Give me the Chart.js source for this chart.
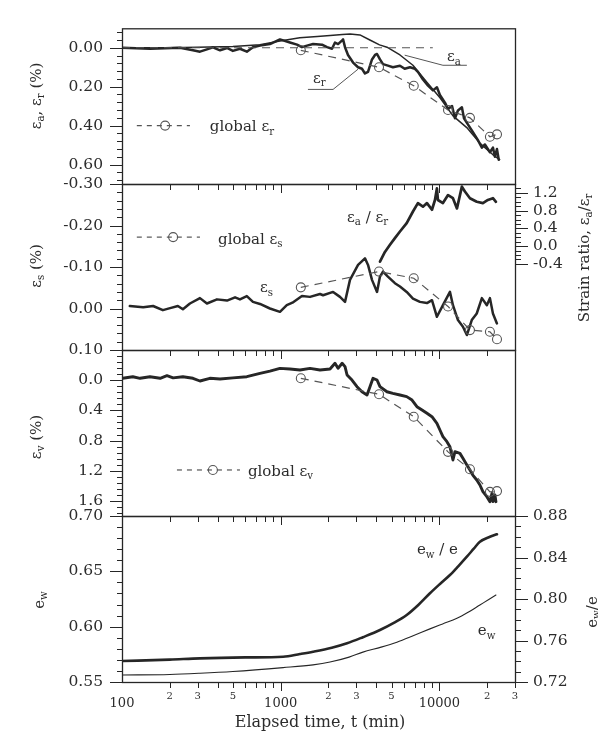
<!DOCTYPE html>
<html>
<head>
<meta charset="utf-8">
<title>Strain and void ratio versus elapsed time</title>
<script src="https://cdn.jsdelivr.net/npm/chart.js@4.4.1/dist/chart.umd.min.js"></script>
<style>
  html, body { margin: 0; padding: 0; background: #fff; }
  #wrap { position: relative; width: 598px; height: 735px; overflow: hidden; background: #fff; }
  #wrap canvas { position: absolute; left: 0; top: 0; }
</style>
</head>
<body>
<div id="wrap">
  <canvas id="p1" width="598" height="735"></canvas>
  <canvas id="p2" width="598" height="735"></canvas>
  <canvas id="p3" width="598" height="735"></canvas>
  <canvas id="p4" width="598" height="735"></canvas>
</div>
<script>
// ---------- time axis (min) ----------
const T_MIN = 100, T_MAX = 30000;
const timeMajor = [1000, 10000];
const timeMinor = [200, 300, 400, 500, 600, 700, 800, 900,
                   2000, 3000, 4000, 5000, 6000, 7000, 8000, 9000, 20000, 30000];
const timeLabelValues = [100, 200, 300, 500, 1000, 2000, 3000, 5000, 10000, 20000, 30000];
const timeLabelText   = ['100', '2', '3', '5', '1000', '2', '3', '5', '10000', '2', '3'];

// ---------- panel 1: axial and radial strain (%) ----------
const tEa = [100, 200, 300, 500, 740, 990, 1320, 1700, 2050, 2450, 2740, 3160, 3650, 4200, 4680,
             5650, 6820, 8400, 10100, 12200, 14900, 18000, 21800, 24000];
const ea  = [0.000, 0.000, -0.002, -0.006, -0.015, -0.035, -0.052, -0.058, -0.063, -0.068, -0.071, -0.066, -0.040, -0.015, -0.003,
             0.037, 0.090, 0.180, 0.257, 0.350, 0.410, 0.490, 0.550, 0.575];

const tEr = [100, 150, 187, 232, 280, 310, 343, 374, 415, 459, 500, 554, 612, 669, 741, 856, 990, 1144, 1268, 1362,
             1466, 1601, 1822, 1960, 2107, 2201, 2300, 2441, 2474, 2545, 2658, 2860, 3075, 3255, 3400, 3554, 3765, 3934, 4050, 4227,
             4417, 4742, 5100, 5650, 6050, 6531, 7020, 7330, 7890, 8490, 9120, 9660, 10090, 10850, 11350, 12030, 12550, 13110, 13880, 14310,
             15140, 16260, 17480, 18550, 19380, 20850, 21780, 22420, 23080, 23700];
const er  = [0.000, 0.005, 0.002, 0.000, 0.013, 0.020, 0.008, -0.002, 0.013, 0.001, 0.016, 0.005, 0.020, -0.003, -0.011, -0.019, -0.043, -0.027, -0.016, -0.003,
             -0.011, -0.019, -0.016, -0.003, 0.005, -0.027, -0.019, -0.038, -0.043, -0.003, 0.037, 0.076, 0.100, 0.108, 0.132, 0.124, 0.060, 0.037, 0.032, 0.060,
             0.084, 0.092, 0.100, 0.092, 0.108, 0.100, 0.108, 0.124, 0.163, 0.195, 0.219, 0.203, 0.243, 0.282, 0.314, 0.299, 0.362, 0.322, 0.306, 0.362,
             0.394, 0.433, 0.473, 0.513, 0.497, 0.537, 0.513, 0.560, 0.520, 0.575];

// global (specimen-average) measurements
const tGlobal = [1340, 4170, 6900, 11350, 15600, 20850, 23100];
const gEr = [0.013, 0.100, 0.195, 0.320, 0.360, 0.457, 0.445];
const tGlobalA = [100, 9100];
const gEa = [0, 0];

// ---------- panel 2: shear strain (%) and strain ratio ----------
const tEs = [112, 136, 157, 181, 201, 225, 242, 268, 310, 343, 397, 459, 516, 554, 612, 669, 741, 856, 990, 1093,
             1187, 1362, 1531, 1770, 1851, 2140, 2366, 2545, 2735, 3075, 3400, 3554, 3765, 4050, 4227, 4417, 4742, 5250, 5650, 6230,
             6823, 7551, 8360, 8990, 9660, 10540, 11670, 12190, 13110, 14090, 14920, 16020, 17220, 18550, 19940, 20850, 21780, 23080];
const es  = [-0.006, -0.003, -0.006, 0.004, -0.001, -0.006, 0.002, -0.012, -0.025, -0.012, -0.022, -0.019, -0.027, -0.022, -0.030, -0.016, -0.011, 0.000, 0.008, -0.008,
             -0.014, -0.030, -0.028, -0.035, -0.032, -0.040, -0.028, -0.016, -0.069, -0.105, -0.121, -0.105, -0.069, -0.040, -0.077, -0.089, -0.077, -0.061, -0.053, -0.040,
             -0.024, -0.016, -0.013, -0.020, 0.020, -0.008, -0.040, -0.008, 0.028, 0.044, 0.064, 0.028, 0.012, -0.025, -0.008, -0.025, 0.012, 0.036];
const gEs = [-0.051, -0.089, -0.073, -0.005, 0.052, 0.056, 0.074];

const tRatio = [4227, 4542, 4887, 5250, 5650, 6230, 6823, 7330, 7890, 8360, 8990, 9390, 9660, 9800, 10540, 11350, 12190, 12920,
                13880, 14500, 15600, 17220, 18830, 20240, 21780, 22750];
const ratio  = [-0.35, -0.13, 0.03, 0.18, 0.33, 0.52, 0.78, 0.97, 0.89, 0.97, 0.82, 1.04, 1.30, 1.04, 0.97, 1.15, 1.08, 0.85,
                1.34, 1.23, 1.08, 1.00, 0.97, 1.04, 1.08, 1.00];

// ---------- panel 3: volumetric strain (%) ----------
const tEv = [101, 117, 130, 150, 174, 192, 210, 242, 280, 310, 358, 415, 500, 612, 741, 856, 990, 1144, 1324, 1531,
             1770, 2047, 2201, 2300, 2441, 2545, 2622, 2816, 3029, 3255, 3503, 3656, 3820, 4050, 4227, 4677, 5100, 5650, 6230, 6730,
             7225, 7782, 8360, 8990, 9660, 10090, 10540, 11170, 11670, 12190, 12550, 13490, 14090, 14920, 15600, 16260, 17220, 18030, 18830, 19940,
             20850, 21480, 21780, 22420, 22750];
const ev  = [-0.025, -0.046, -0.025, -0.046, -0.025, -0.060, -0.030, -0.046, -0.025, 0.011, -0.025, -0.016, -0.030, -0.046, -0.090, -0.120, -0.157, -0.148, -0.135, -0.157,
             -0.135, -0.148, -0.224, -0.157, -0.224, -0.179, -0.069, -0.002, 0.086, 0.153, 0.196, 0.086, -0.025, -0.002, 0.086, 0.153, 0.174, 0.196, 0.218, 0.263,
             0.351, 0.395, 0.439, 0.484, 0.572, 0.660, 0.749, 0.815, 0.882, 1.058, 0.948, 0.970, 1.035, 1.124, 1.190, 1.257, 1.323, 1.389, 1.477, 1.544,
             1.610, 1.500, 1.610, 1.520, 1.610];
const gEv = [-0.025, 0.187, 0.484, 0.950, 1.180, 1.480, 1.470];

// ---------- panel 4: void ratio ----------
const tEw = [100, 200, 310, 500, 1036, 1600, 2047, 2700, 3300, 4300, 5405, 6900, 8730, 10500, 12920, 15200, 18030, 20500, 22750];
const ew  = [0.5563, 0.5568, 0.5579, 0.5595, 0.5630, 0.5655, 0.5680, 0.5725, 0.5770, 0.5815, 0.5860, 0.5920, 0.5980, 0.6025, 0.6075, 0.6130, 0.6196, 0.6245, 0.6286];
const tEwe = [100, 200, 310, 600, 1036, 1324, 1601, 2100, 2622, 3300, 4227, 5200, 6230, 7400, 8730, 10100, 11670, 13200, 14920, 16500, 18030, 20850, 23080];
const ewe  = [0.7402, 0.7416, 0.7428, 0.7437, 0.7444, 0.7470, 0.7492, 0.7530, 0.7573, 0.7632, 0.7701, 0.7772, 0.7846, 0.7945, 0.8055, 0.8145, 0.8231, 0.8318, 0.8408, 0.8485, 0.8552, 0.8600, 0.8624];

// ---------- axis tick labels ----------
const y1Ticks = [0, 0.2, 0.4, 0.6];
const y2Ticks = [-0.3, -0.2, -0.1, 0, 0.1];
const r2Ticks = [-0.4, 0, 0.4, 0.8, 1.2];
const y3Ticks = [0, 0.4, 0.8, 1.2, 1.6];
const y4Ticks = [0.55, 0.60, 0.65, 0.70];
const r4Ticks = [0.72, 0.76, 0.80, 0.84, 0.88];

// ---------- layout and style ----------
const W = 598, H = 735;
const PLOT_L = 122, PLOT_R = 515;
const INK = '#262626', GREY = '#555', TEXT = '#2c2c2c';
const SERIF = '"DejaVu Serif", "Liberation Serif", serif';

const pts = (ts, vs) => ts.map((t, i) => ({ x: t, y: vs[i] }));

function solid(label, ts, vs, width, axis, smooth) {
  const ds = { label, data: pts(ts, vs), yAxisID: axis || 'y', borderColor: INK, borderWidth: width,
               pointRadius: 0, tension: 0, fill: false, borderJoinStyle: 'round', borderCapStyle: 'round' };
  if (smooth) ds.cubicInterpolationMode = 'monotone';
  return ds;
}
function dashed(label, ts, vs, markers) {
  return { label, data: pts(ts, vs), yAxisID: 'y', borderColor: GREY, borderWidth: 1.2, borderDash: [8, 6],
           pointRadius: markers ? 4.5 : 0, pointBorderWidth: 1.1, pointBorderColor: GREY,
           pointBackgroundColor: 'rgba(255,255,255,0)', pointStyle: 'circle', tension: 0, fill: false };
}

// text with single-character subscripts written as "_x"
function parseRich(s) {
  const parts = []; let buf = '';
  for (let i = 0; i < s.length; i++) {
    if (s[i] === '_' && i + 1 < s.length) {
      if (buf) { parts.push({ s: buf, sub: false }); buf = ''; }
      parts.push({ s: s[i + 1], sub: true }); i++;
    } else buf += s[i];
  }
  if (buf) parts.push({ s: buf, sub: false });
  return parts;
}
function drawRich(ctx, str, x, y, size, align) {
  const parts = parseRich(str), subSize = size * 0.68;
  let w = 0;
  parts.forEach(p => { ctx.font = `${p.sub ? subSize : size}px ${SERIF}`; p.w = ctx.measureText(p.s).width; w += p.w; });
  let cx = align === 'center' ? x - w / 2 : align === 'right' ? x - w : x;
  ctx.textAlign = 'left'; ctx.textBaseline = 'middle'; ctx.fillStyle = TEXT;
  parts.forEach(p => {
    ctx.font = `${p.sub ? subSize : size}px ${SERIF}`;
    ctx.fillText(p.s, cx, p.sub ? y + size * 0.32 : y);
    cx += p.w;
  });
}

function yTickMarks(ctx, scale, x, dir, major, minor, from, to) {
  const lo = from !== undefined ? from : scale.min, hi = to !== undefined ? to : scale.max;
  const n0 = Math.ceil(lo / minor - 1e-6), n1 = Math.floor(hi / minor + 1e-6);
  for (let n = n0; n <= n1; n++) {
    const v = n * minor;
    const isMajor = Math.abs(v / major - Math.round(v / major)) < 1e-6;
    const y = Math.round(scale.getPixelForValue(v)) + 0.5;
    ctx.moveTo(x, y); ctx.lineTo(x + dir * (isMajor ? 12 : 5), y);
  }
}
function xTickMarks(ctx, scale, y) {
  timeMinor.forEach(v => { const x = Math.round(scale.getPixelForValue(v)) + 0.5; ctx.moveTo(x, y); ctx.lineTo(x, y + 6); });
  timeMajor.forEach(v => { const x = Math.round(scale.getPixelForValue(v)) + 0.5; ctx.moveTo(x, y); ctx.lineTo(x, y + 9); });
}

// frame, minor/major ticks, annotations
function makeDecor(cfg) {
  return {
    id: 'decor',
    afterDatasetsDraw(chart) {
      const ctx = chart.ctx, a = chart.chartArea, xs = chart.scales.x, ys = chart.scales.y;
      const px = (t, v, axis) => [xs.getPixelForValue(t), chart.scales[axis || 'y'].getPixelForValue(v)];
      ctx.save();
      ctx.strokeStyle = INK; ctx.lineWidth = 1.3; ctx.setLineDash([]);
      ctx.strokeRect(a.left + 0.5, a.top + 0.5, a.right - a.left, a.bottom - a.top);

      ctx.lineWidth = 1; ctx.beginPath();
      yTickMarks(ctx, ys, a.left, -1, cfg.yMajor, cfg.yMinor);
      if (cfg.r) yTickMarks(ctx, chart.scales.y2, a.right + 1, 1, cfg.r.major, cfg.r.minor, cfg.r.from, cfg.r.to);
      if (cfg.topTicks) xTickMarks(ctx, xs, a.top);
      if (cfg.bottomTicks) xTickMarks(ctx, xs, a.bottom);
      ctx.stroke();

      // leader lines from labels to curves
      (cfg.leaders || []).forEach(path => {
        ctx.beginPath(); ctx.strokeStyle = GREY; ctx.lineWidth = 1;
        path.forEach((p, i) => { const q = px(p[0], p[1]); i ? ctx.lineTo(q[0], q[1]) : ctx.moveTo(q[0], q[1]); });
        ctx.stroke();
      });

      // legend samples for the global series
      (cfg.legends || []).forEach(l => {
        const p0 = px(l.t0, l.v), p1 = px(l.t1, l.v), pc = px(l.tc, l.v);
        ctx.beginPath(); ctx.strokeStyle = GREY; ctx.lineWidth = 1.2; ctx.setLineDash([5, 5]);
        ctx.moveTo(p0[0], p0[1]); ctx.lineTo(p1[0], p1[1]); ctx.stroke();
        ctx.setLineDash([]);
        ctx.beginPath(); ctx.lineWidth = 1.1; ctx.arc(pc[0], pc[1], 4.5, 0, Math.PI * 2); ctx.stroke();
        const pt = px(l.tt, l.vt);
        drawRich(ctx, l.text, pt[0], pt[1], 15, 'left');
      });

      // curve labels placed in data coordinates
      (cfg.labels || []).forEach(l => {
        const p = px(l.t, l.v, l.axis);
        drawRich(ctx, l.text, p[0], p[1], l.size || 15, 'left');
      });

      // axis titles
      (cfg.titles || []).forEach(tl => {
        ctx.save(); ctx.translate(tl.x, tl.y);
        if (tl.rot) ctx.rotate(-Math.PI / 2);
        drawRich(ctx, tl.text, 0, 0, tl.size || 15, 'center');
        ctx.restore();
      });

      // time axis labels
      if (cfg.timeLabels) {
        ctx.fillStyle = TEXT; ctx.textAlign = 'center'; ctx.textBaseline = 'middle';
        timeLabelValues.forEach((v, i) => {
          const big = timeLabelText[i].length > 1;
          ctx.font = `${big ? 13 : 10}px ${SERIF}`;
          ctx.fillText(timeLabelText[i], xs.getPixelForValue(v), a.bottom + (big ? 22 : 14));
        });
      }
      ctx.restore();
    }
  };
}

function axisOpts(c, pos) {
  return {
    type: 'linear', position: pos, min: c.min, max: c.max, reverse: !!c.reverse,
    grid: { display: false, drawTicks: false }, border: { display: false },
    ticks: { padding: pos === 'left' ? 19 : 18, color: TEXT, autoSkip: false,
             font: { family: SERIF, size: 15.5 }, callback: v => Number(v).toFixed(c.dec) },
    afterBuildTicks(s) { s.ticks = c.ticks.map(v => ({ value: v })); },
    afterFit(s) { s.width = pos === 'left' ? PLOT_L : W - PLOT_R; }
  };
}

function makePanel(id, top, bottom, datasets, y, y2, deco) {
  const scales = {
    x: { type: 'logarithmic', min: T_MIN, max: T_MAX, display: false },
    y: axisOpts(y, 'left')
  };
  if (y2) scales.y2 = axisOpts(y2, 'right');
  return new Chart(document.getElementById(id), {
    type: 'line',
    data: { datasets },
    options: {
      responsive: false, animation: false, events: [], devicePixelRatio: 1,
      layout: { padding: { top, bottom: H - bottom, left: 0, right: y2 ? 0 : W - PLOT_R } },
      plugins: { legend: { display: false }, tooltip: { enabled: false } },
      scales
    },
    plugins: [makeDecor(deco)]
  });
}

// panel 1: axial / radial strain
makePanel('p1', 19, 184, [
  dashed('global εa', tGlobalA, gEa, false),
  dashed('global εr', tGlobal, gEr, true),
  solid('εa', tEa, ea, 1.5),
  solid('εr', tEr, er, 2.5)
], { min: -0.1, max: 0.7, reverse: true, ticks: y1Ticks, dec: 2 }, null, {
  yMajor: 0.2, yMinor: 0.04,
  leaders: [[[6050, 0.038], [10540, 0.09], [14920, 0.09]], [[1486, 0.214], [2140, 0.214], [3075, 0.11]]],
  legends: [{ t0: 124, t1: 268, tc: 187, v: 0.40, tt: 358, vt: 0.41, text: 'global ε_r' }],
  labels: [{ t: 11170, v: 0.05, text: 'ε_a' }, { t: 1600, v: 0.16, text: 'ε_r' }],
  titles: [{ x: 37, y: 96, rot: true, text: 'ε_a, ε_r (%)' }]
});

// panel 2: shear strain and strain ratio
makePanel('p2', 184, 350, [
  dashed('global εs', tGlobal, gEs, true),
  solid('εs', tEs, es, 2.5),
  solid('εa/εr', tRatio, ratio, 2.7, 'y2')
], { min: -0.3, max: 0.1, reverse: true, ticks: y2Ticks, dec: 2 },
   { min: -2.34, max: 1.4, ticks: r2Ticks, dec: 1 }, {
  yMajor: 0.1, yMinor: 0.02, topTicks: true,
  r: { major: 0.4, minor: 0.1, from: -0.4, to: 1.3 },
  legends: [{ t0: 124, t1: 310, tc: 210, v: -0.172, tt: 403, vt: -0.166, text: 'global ε_s' }],
  labels: [{ t: 741, v: -0.049, text: 'ε_s' }, { t: 2620, v: -0.218, text: 'ε_a / ε_r' }],
  titles: [{ x: 37, y: 266, rot: true, text: 'ε_s (%)' },
           { x: 585, y: 258, rot: true, text: 'Strain ratio, ε_a/ε_r' }]
});

// panel 3: volumetric strain
makePanel('p3', 350, 516, [
  dashed('global εv', tGlobal, gEv, true),
  solid('εv', tEv, ev, 2.9)
], { min: -0.4, max: 1.8, reverse: true, ticks: y3Ticks, dec: 1 }, null, {
  yMajor: 0.4, yMinor: 0.08, topTicks: true,
  legends: [{ t0: 222, t1: 554, tc: 374, v: 1.19, tt: 622, vt: 1.215, text: 'global ε_v' }],
  titles: [{ x: 37, y: 437, rot: true, text: 'ε_v (%)' }]
});

// panel 4: void ratio e_w and normalised ratio e_w/e
makePanel('p4', 516, 682, [
  solid('ew', tEw, ew, 1.1, 'y', true),
  solid('ew/e', tEwe, ewe, 2.6, 'y2', true)
], { min: 0.55, max: 0.70, ticks: y4Ticks, dec: 2 },
   { min: 0.72, max: 0.88, ticks: r4Ticks, dec: 2 }, {
  yMajor: 0.05, yMinor: 0.01, topTicks: true, bottomTicks: true, timeLabels: true,
  r: { major: 0.04, minor: 0.01 },
  labels: [{ t: 7225, v: 0.669, text: 'e_w / e' }, { t: 17480, v: 0.596, text: 'e_w' }],
  titles: [{ x: 40, y: 600, rot: true, text: 'e_w' },
           { x: 593, y: 612, rot: true, text: 'e_w/e' },
           { x: 320, y: 723, size: 16, text: 'Elapsed time, t (min)' }]
});
</script>
</body>
</html>
